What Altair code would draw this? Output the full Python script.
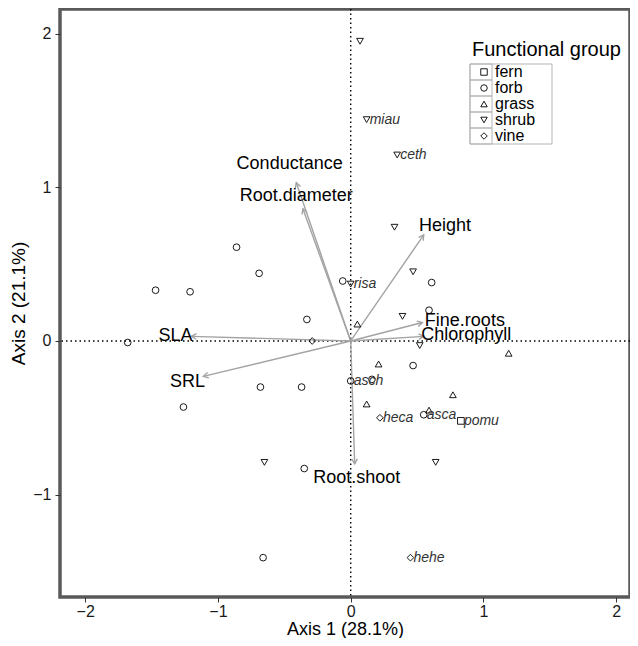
import math
import altair as alt
import pandas as pd

# ---- site scores ----
group = (["shrub"] * 10 + ["forb"] * 18 + ["grass"] * 6 + ["vine"] * 3 + ["fern"])
px = [0.07, 0.12, 0.35, 0.33, 0.47, 0.00, 0.39, 0.52, -0.65, 0.64,
      -0.86, -0.69, -1.47, -1.21, -0.33, -1.68, -1.26, -0.68, -0.37, -0.35, -0.66,
      -0.06, 0.61, 0.59, 0.47, 0.16, 0.00, 0.55,
      0.05, 0.21, 0.12, 0.59, 0.77, 1.19,
      -0.29, 0.22, 0.45,
      0.83]
py = [1.95, 1.44, 1.21, 0.74, 0.45, 0.37, 0.16, -0.03, -0.79, -0.79,
      0.61, 0.44, 0.33, 0.32, 0.14, -0.01, -0.43, -0.30, -0.30, -0.83, -1.41,
      0.39, 0.38, 0.20, -0.16, -0.25, -0.26, -0.48,
      0.11, -0.15, -0.41, -0.45, -0.35, -0.08,
      0.00, -0.50, -1.41,
      -0.52]
plabel = ["", "miau", "ceth", "", "", "risa", "", "", "", "",
          "", "", "", "", "", "", "", "", "", "", "",
          "", "", "", "", "", "asch", "asca",
          "", "", "", "", "", "",
          "", "heca", "hehe",
          "pomu"]

# ---- trait vectors ----
traits = ["Conductance", "Root.diameter", "Height", "Fine.roots", "Chlorophyll",
          "SLA", "SRL", "Root.shoot"]
vx = [-0.41, -0.36, 0.55, 0.54, 0.55, -1.20, -1.11, 0.03]
vy = [1.03, 0.86, 0.69, 0.12, 0.03, 0.03, -0.23, -0.80]
lx = [-0.46, -0.41, 0.71, 0.86, 0.87, -1.32, -1.23, 0.045]
ly = [1.15, 0.945, 0.75, 0.13, 0.04, 0.03, -0.27, -0.89]

groups = ["fern", "forb", "grass", "shrub", "vine"]
shapes = ["square", "circle", "triangle-up", "triangle-down", "diamond"]

XDOM = [-2.19, 2.104]
YDOM = [-1.666, 2.160]
W, H = 570, 588
FONT = "Liberation Sans"
ARROW = "#a3a3a3"
LEGBORDER = "#b5b5b5"

sx = W / (XDOM[1] - XDOM[0])
sy = H / (YDOM[1] - YDOM[0])
angles = [(math.degrees(math.atan2(-y * sy, x * sx)) + 360) % 360 for x, y in zip(vx, vy)]

pts = pd.DataFrame({"x": px, "y": py, "group": group, "label": plabel})
lab = pts[pts["label"] != ""]
arr = pd.DataFrame({"x": [0.0] * len(vx), "y": [0.0] * len(vy), "xe": vx, "ye": vy})
heads = pd.DataFrame({"x": vx, "y": vy, "angle": angles})
tl = pd.DataFrame({"x": lx, "y": ly, "text": traits})
zero = pd.DataFrame({"x": [0.0], "y": [0.0]})

xaxis = alt.Axis(values=[-2, -1, 0, 1, 2], title="Axis 1 (28.1%)", grid=False, domain=False,
                 tickSize=5, tickColor="#333", labelFontSize=16, labelColor="#1a1a1a",
                 titleFontSize=18, titleFontWeight="normal", titleColor="black",
                 labelPadding=1, titlePadding=1, labelFont=FONT, titleFont=FONT)
yaxis = alt.Axis(values=[-1, 0, 1, 2], title="Axis 2 (21.1%)", grid=False, domain=False,
                 tickSize=5, tickColor="#333", labelFontSize=16, labelColor="#1a1a1a",
                 titleFontSize=19, titleFontWeight="normal", titleColor="black",
                 labelPadding=4, titlePadding=4, labelFont=FONT, titleFont=FONT)


def X(f="x"):
    return alt.X(f + ":Q", scale=alt.Scale(domain=XDOM, nice=False, zero=False), axis=xaxis)


def Y(f="y"):
    return alt.Y(f + ":Q", scale=alt.Scale(domain=YDOM, nice=False, zero=False), axis=yaxis)


vline = alt.Chart(zero).mark_rule(color="black", strokeDash=[1.5, 3], strokeWidth=1.4).encode(x=X())
hline = alt.Chart(zero).mark_rule(color="black", strokeDash=[1.5, 3], strokeWidth=1.4).encode(y=Y())

rules = alt.Chart(arr).mark_rule(color=ARROW, strokeWidth=1.4).encode(
    x=X(), y=Y(), x2="xe:Q", y2="ye:Q")

heads_l = alt.Chart(heads).mark_point(
    shape="M-1,-0.55L0,0L-1,0.55", filled=False, color=ARROW, strokeWidth=1.4, size=100, opacity=1
).encode(x=X(), y=Y(), angle=alt.Angle("angle:Q", scale=None))

points = alt.Chart(pts).mark_point(filled=False, color="black", size=45, strokeWidth=0.9, opacity=1).encode(
    x=X(), y=Y(),
    shape=alt.Shape("group:N", scale=alt.Scale(domain=groups, range=shapes),
                    legend=alt.Legend(title="Functional group", orient="none", legendX=412, legendY=31,
                                      titleFontSize=20, titleFontWeight="normal", titleFont=FONT,
                                      titleColor="black", labelFontSize=16, labelFont=FONT,
                                      labelColor="black", symbolSize=42, symbolStrokeColor="black",
                                      symbolFillColor="transparent", symbolStrokeWidth=0.9,
                                      symbolOffset=4, rowPadding=0, labelOffset=3, titlePadding=4,
                                      padding=0)))

plabels = alt.Chart(lab).mark_text(align="left", baseline="middle", dx=3, fontSize=14,
                                   fontStyle="italic", font=FONT, color="#333").encode(
    x=X(), y=Y(), text="label:N")

tlabels = alt.Chart(tl).mark_text(align="center", baseline="middle", fontSize=18, font=FONT,
                                  color="black").encode(x=X(), y=Y(), text="text:N")

one = pd.DataFrame({"a": [0]})
box = [alt.Chart(one).mark_rect(fill="white", stroke=LEGBORDER, strokeWidth=1).encode(
    x=alt.value(410), x2=alt.value(492), y=alt.value(55), y2=alt.value(135))]
for k in range(5):
    box.append(alt.Chart(one).mark_rect(fill="transparent", stroke=LEGBORDER, strokeWidth=1).encode(
        x=alt.value(410), x2=alt.value(432), y=alt.value(55 + 16 * k), y2=alt.value(71 + 16 * k)))

chart = alt.layer(vline, hline, rules, heads_l, *box, points, plabels, tlabels).properties(
    width=W, height=H,
    padding={"left": 52, "top": 1, "right": 0, "bottom": 41},
    autosize=alt.AutoSizeParams(type="none"),
).configure(font=FONT).configure_view(stroke="#595959", strokeWidth=3.5)

chart.save("out.html", embed_options={"renderer": "svg", "actions": False})
